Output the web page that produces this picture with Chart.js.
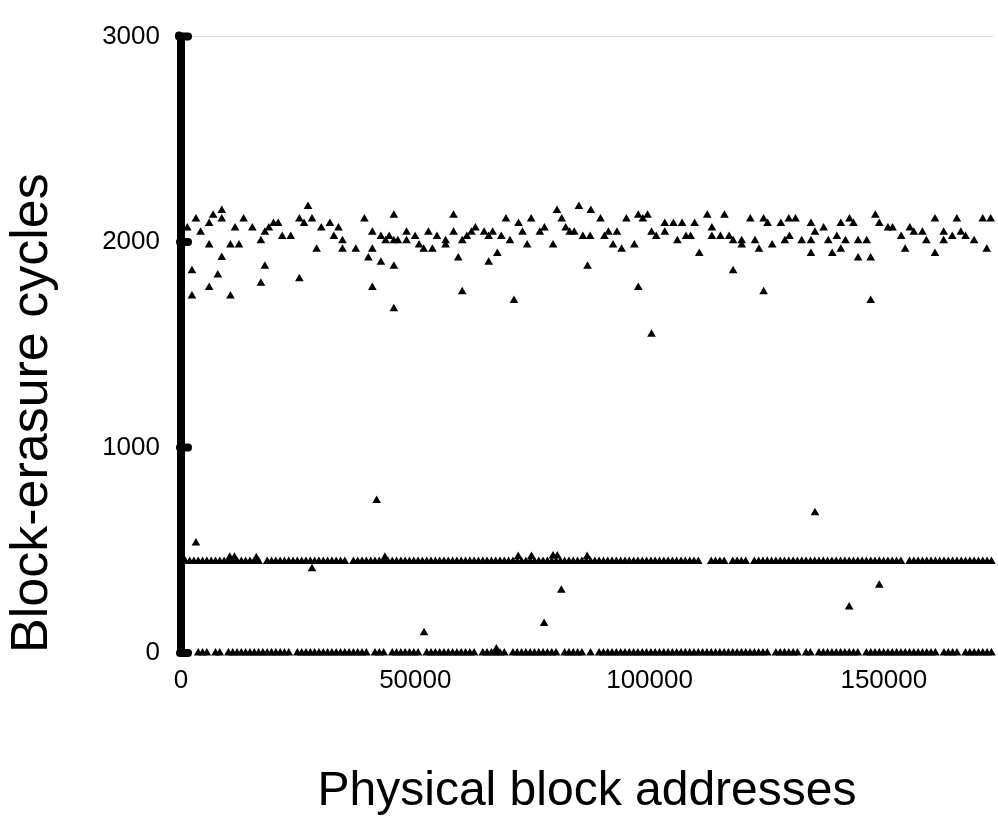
<!DOCTYPE html>
<html>
<head>
<meta charset="utf-8">
<script src="https://cdn.jsdelivr.net/npm/chart.js@4.4.0/dist/chart.umd.min.js"></script>
<style>
  html, body { margin: 0; padding: 0; background: #fff; overflow: hidden; }
</style>
</head>
<body>
<canvas id="myChart" width="998" height="820"></canvas>
<script>
// axis ticks
const xTicks = [0, 50000, 100000, 150000];
const yTicks = [0, 1000, 2000, 3000];

// blocks around 2000 cycles
const hiX = [1340, 3185, 2335, 2335, 4180, 6010, 6010, 6010, 6860, 7855, 8700, 8700, 8700, 10550, 10550, 11530, 12380, 13375, 15220, 17050,
  17050, 17900, 17900, 18750, 19745, 20740, 21590, 23420, 25265, 25265, 26260, 27110, 27960, 28940, 29935, 31780, 32630, 33610, 34460, 34460,
  37300, 39130, 39980, 40830, 40830, 40830, 42670, 42670, 43670,
  44440, 45430, 45430, 46280, 45430, 45430, 48130, 48130, 49960, 50810, 51800, 52800, 53650, 54630, 56470, 56470, 58170, 58170, 59170, 60020,
  60020, 61000, 61990, 62840, 64690, 65660, 65660, 66510, 67510, 68360, 69360, 70210, 71060, 72040, 72880, 73880, 74730, 76580, 77560, 79400,
  80250, 81250, 82100, 82950, 83930, 84920, 85770, 86770, 87320, 87470,
  89530, 90370, 91220, 92210, 93050, 94050, 95050, 96750, 97600, 97600, 98570, 99570, 100420, 100420, 101420, 103250, 103250, 105090, 105940,
  106940, 107780, 108760, 109610, 110610, 112310, 113300, 113300, 115130, 115980, 116980, 117830, 117830, 119670, 119670, 121500, 122500,
  123350, 124340, 124340, 125190, 126170, 128020, 128870, 129720, 129860, 131140,
  132470, 134450, 134450, 134450, 135300, 137150, 138140, 138990, 139970, 140820, 140820, 141820, 142670, 143520, 144510, 144510, 146340,
  147190, 147190, 148190, 149030, 150880, 151860, 153700, 154550, 155550, 156400, 158230, 159080, 160920, 160920, 162770, 162770, 164600,
  165590, 166440, 167430, 169260, 171110, 171960, 172810];
const hiY = [2069, 2112, 1861, 1737, 2048, 2090, 1986, 1779, 2131, 1840, 2154, 2112, 1925, 1986, 1737, 2069, 1986, 2112, 2069, 2006,
  1800, 2048, 1882, 2069, 2090, 2090, 2027, 2027, 2112, 1821, 2090, 2173, 2112, 1965, 2069, 2090, 2027, 2069, 2006, 1965,
  1965, 2112, 1923, 2048, 1965, 1779, 2027, 1902, 2006,
  2027, 2131, 2006, 2006, 1882, 1676, 2048, 2006, 2027, 1986, 1965, 2048, 1965, 2027, 2006, 1986, 2131, 2048, 1923, 2006,
  1758, 2027, 2048, 2069, 2048, 2027, 1902, 2048, 1944, 2027, 2112, 2006, 1716, 2090, 2048, 1986, 2112, 2048, 2069, 1986,
  2154, 2112, 2069, 2048, 2048, 2173, 2027, 1882, 2027, 2154,
  2112, 2027, 2048, 1986, 2048, 1965, 2112, 1986, 2131, 1779, 2112, 2131, 2048, 1551, 2027, 2090, 2048, 2090, 2006,
  2090, 2027, 2027, 2090, 1944, 2131, 2069, 2027, 2027, 2131, 2027, 2006, 1861, 2006, 1986, 2112, 2006,
  1965, 2112, 1758, 2090, 1986, 2090, 2006, 2112, 2027, 2112,
  2006, 2090, 2006, 1944, 2048, 2069, 2006, 1944, 2027, 2090, 1965, 2006, 2112, 2090, 2006, 1923, 2006,
  1923, 1716, 2131, 2090, 2069, 2069, 2027, 1965, 2069, 2048, 2048, 2006, 2112, 1944, 2048, 2006, 2027,
  2112, 2048, 2027, 2006, 2112, 1965, 2112];

// blocks sitting at about 445 cycles
const midLevel = 445;
const midX = [920, 1840, 2760, 3680, 4600, 5520, 6440, 7360, 8280, 9200, 10120, 11040, 11960, 12880, 13800, 14720, 15640, 16560,
  18400, 19320, 20240, 21160, 22080, 23000, 23920, 24840, 25760, 26680, 27600, 28520, 29440, 30360, 31280, 32200, 33120, 34040, 34960,
  36800, 37720, 38640, 39560, 40480, 41400, 42320, 43240, 44160, 45080, 46000, 46920, 47840, 48760, 49680, 50600, 51520, 52440, 53360,
  54280, 55200, 56120, 57040, 57960, 58880, 59800, 60720, 61640, 62560, 63480, 64400, 65320, 66240, 67160, 68080, 69000, 69920, 70840,
  71760, 72680, 73600, 74520, 75440, 76360, 77280, 78200, 79120, 80040, 80960, 81880, 82800, 83720, 84640, 85560, 86480, 87400, 88320,
  89240, 90160, 91080, 92000, 92920, 93840, 94760, 95680, 96600, 97520, 98440, 99360, 100280, 101200, 102120, 103040, 103960, 104880,
  105800, 106720, 107640, 108560, 109480, 110400, 113160, 114080, 115000, 115920, 117760, 118680, 119600, 120520, 122360, 123280,
  124200, 125120, 126040, 126960, 127880, 128800, 129720, 130640, 131560, 132480, 133400, 134320, 135240, 136160, 137080, 138000,
  138920, 139840, 140760, 141680, 142600, 143520, 144440, 145360, 146280, 147200, 148120, 149040, 149960, 150880, 151800, 152720,
  153640, 155480, 156400, 157320, 158240, 159160, 160080, 161000, 161920, 162840, 163760, 164680, 165600, 166520, 167440, 168360,
  169280, 170200, 171120, 172040, 172960];

// blocks never erased
const zeroX = [3680, 4600, 5520, 7360, 8280, 10120, 11040, 11960, 12880, 13800, 14720, 15640, 16560, 17480, 18400, 19320, 20240,
  21160, 22080, 23000, 24840, 25760, 26680, 27600, 28520, 29440, 30360, 31280, 32200, 33120, 34040, 34960, 35880, 36800, 37720,
  38640, 39560, 41400, 42320, 43240, 45080, 46000, 46920, 47840, 48760, 49680, 50600, 52440, 53360, 54280, 55200, 56120, 57040,
  57960, 58880, 59800, 60720, 61640, 62560, 64400, 65320, 66240, 67160, 68080, 69000, 70840, 71760, 72680, 73600, 74520, 75440,
  76360, 77280, 78200, 79120, 80040, 81880, 82800, 83720, 84640, 85560, 87400, 89240, 90160, 91080, 92000, 92920, 93840, 94760,
  95680, 96600, 97520, 98440, 99360, 100280, 101200, 102120, 103040, 103960, 104880, 105800, 106720, 107640, 108560, 109480, 110400,
  111320, 112240, 113160, 114080, 115000, 115920, 116840, 117760, 118680, 119600, 120520, 121440, 122360, 123280, 124200, 125120,
  126960, 127880, 128800, 129720, 130640, 131560, 133400, 134320, 136160, 137080, 138000, 138920, 139840, 140760, 141680, 142600,
  143520, 144440, 146280, 147200, 148120, 149040, 149960, 150880, 151800, 152720, 153640, 154560, 155480, 156400, 157320, 158240,
  159160, 160080, 161000, 162840, 163760, 164680, 165600, 167440, 168360, 169280, 170200, 171120, 172040, 172960];

// odd ones in between
const outX = [3185, 27960, 41750, 51870, 77490, 81170, 135300, 142600, 149030, 67300,
  10400, 11400, 16070, 43520, 71970, 74800, 79400, 80320, 86680];
const outY = [535, 410, 742, 99, 143, 306, 683, 224, 330, 20,
  466, 466, 464, 466, 470, 470, 472, 472, 470];

const FONT = "'Liberation Sans', Arial, sans-serif";

function pts(xs, ys) {
  return xs.map((x, i) => ({ x: x, y: Array.isArray(ys) ? ys[i] : ys }));
}

const marker = {
  showLine: false,
  pointStyle: 'triangle',
  pointRadius: 5,
  pointBorderWidth: 0,
  pointBackgroundColor: '#000',
  pointBorderColor: '#000',
  clip: false
};

// short inner tick stubs on the thick y axis
const stubs = {
  id: 'stubs',
  afterDraw(chart) {
    const ctx = chart.ctx;
    const y = chart.scales.y;
    const left = chart.chartArea.left;
    ctx.save();
    ctx.strokeStyle = '#000';
    ctx.lineWidth = 8;
    ctx.lineCap = 'round';
    // round top end of the axis
    ctx.beginPath();
    ctx.moveTo(left - 2, y.getPixelForValue(3000));
    ctx.lineTo(left - 2, y.getPixelForValue(3000) - 1);
    ctx.stroke();
    yTicks.forEach(v => {
      const py = y.getPixelForValue(v);
      ctx.beginPath();
      ctx.moveTo(left - 1, py);
      ctx.lineTo(left + 7, py);
      ctx.stroke();
    });
    ctx.restore();
  }
};

new Chart(document.getElementById('myChart').getContext('2d'), {
  type: 'scatter',
  data: {
    datasets: [
      Object.assign({ data: pts(hiX, hiY) }, marker),
      Object.assign({ data: pts(midX, midLevel) }, marker),
      Object.assign({ data: pts(zeroX, 0) }, marker),
      Object.assign({ data: pts(outX, outY) }, marker)
    ]
  },
  options: {
    responsive: false,
    animation: false,
    devicePixelRatio: 1,
    layout: { padding: { top: 27, left: 0, right: 0, bottom: 0 } },
    plugins: { legend: { display: false }, tooltip: { enabled: false } },
    scales: {
      x: {
        type: 'linear',
        min: 0,
        max: 173300,
        afterBuildTicks: s => { s.ticks = xTicks.map(v => ({ value: v })); },
        afterFit: s => { s.height = 167; },
        grid: { display: false, drawTicks: false },
        border: { display: false },
        ticks: {
          color: '#000', padding: 12, maxRotation: 0,
          font: { family: FONT, size: 26 },
          callback: v => String(v)
        },
        title: {
          display: true,
          text: 'Physical block addresses',
          color: '#000',
          padding: { top: 0, bottom: 4 },
          font: { family: FONT, size: 48, lineHeight: 1 }
        }
      },
      y: {
        min: 0,
        max: 3000,
        afterBuildTicks: s => { s.ticks = yTicks.map(v => ({ value: v })); },
        afterFit: s => { s.width = 181; },
        grid: {
          drawTicks: false,
          color: c => (c.tick && c.tick.value === 3000 ? '#d9d9d9' : 'rgba(0,0,0,0)'),
          lineWidth: 1
        },
        border: { display: true, color: '#000', width: 8 },
        ticks: {
          color: '#000', padding: 21,
          font: { family: FONT, size: 26 },
          callback: v => String(v)
        },
        title: {
          display: true,
          text: 'Block-erasure cycles',
          align: 'start',
          color: '#000',
          padding: { top: 7, bottom: 0 },
          font: { family: FONT, size: 52, lineHeight: 1 }
        }
      }
    }
  },
  plugins: [stubs]
});
</script>
</body>
</html>
